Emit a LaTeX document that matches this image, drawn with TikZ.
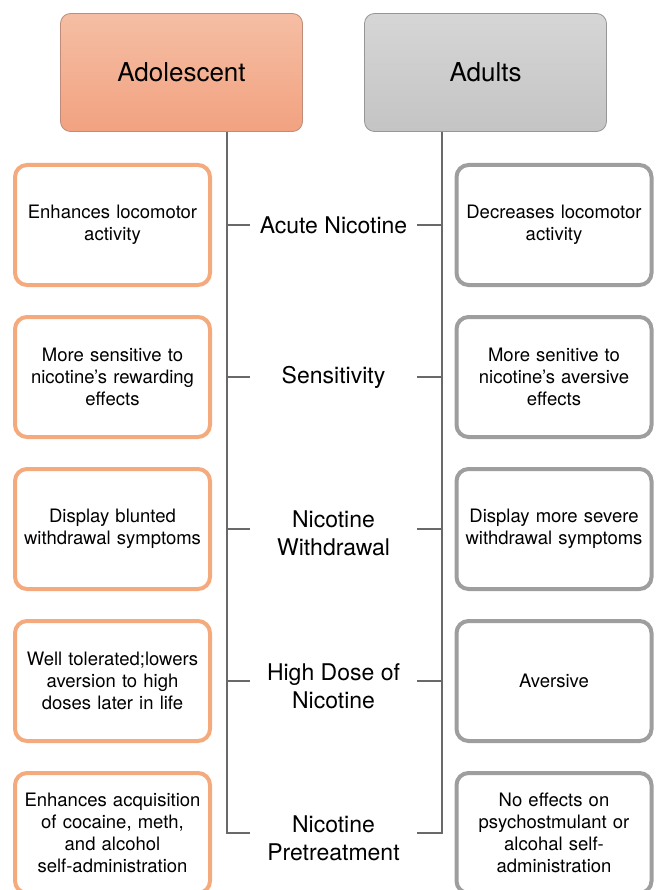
\documentclass[tikz,border=0pt]{standalone}
\usepackage{fontspec}
\setmainfont{TeX Gyre Heros}
\usetikzlibrary{positioning}
\definecolor{peach}{RGB}{244,170,124}
\definecolor{peachtop}{RGB}{245,190,164}
\definecolor{peachbot}{RGB}{242,162,128}
\definecolor{peachdark}{RGB}{190,140,120}
\definecolor{ash}{RGB}{158,158,158}
\definecolor{ashtop}{RGB}{214,214,214}
\definecolor{ashbot}{RGB}{196,196,196}
\definecolor{ashdark}{RGB}{150,150,150}
\definecolor{wire}{RGB}{105,105,105}

\begin{document}
\begin{tikzpicture}[x=1pt,y=-1pt,node distance=152pt,
    header/.style={rounded corners=10pt,line width=.8pt,minimum width=242pt,minimum height=118pt,font=\fontsize{26}{31}\selectfont},
    effect/.style={rounded corners=12pt,line width=4pt,fill=white,minimum width=195pt,minimum height=120pt,text width=186pt,align=center,font=\fontsize{18.5}{22}\selectfont},
    young/.style={effect,draw=peach},
    grown/.style={effect,draw=ash},
    topic/.style={align=center,font=\fontsize{23}{28}\selectfont},
    line/.style={draw=wire,line width=1.3pt}]
  \useasboundingbox (0,0) rectangle (655,890);

  % age groups
  \node[header,draw=peachdark,top color=peachtop,bottom color=peachbot] (adol) at (181.5,72.5) {Adolescent};
  \node[header,draw=ashdark,top color=ashtop,bottom color=ashbot] (adult) at (485.5,72.5) {Adults};

  % adolescent effects
  \node[young] (y1) at (112.5,225) {Enhances locomotor\\activity};
  \node[young] (y2) [below of=y1] {More sensitive to\\nicotine’s rewarding\\effects};
  \node[young] (y3) [below of=y2] {Display blunted\\withdrawal symptoms};
  \node[young] (y4) [below of=y3] {Well tolerated;lowers\\aversion to high\\doses later in life};
  \node[young] (y5) [below of=y4] {Enhances acquisition\\of cocaine, meth,\\and alcohol\\self-administration};

  % adult effects
  \node[grown] (a1) at (554,225) {Decreases locomotor\\activity};
  \node[grown] (a2) [below of=a1] {More senitive to\\nicotine’s aversive\\effects};
  \node[grown] (a3) [below of=a2] {Display more severe\\withdrawal symptoms};
  \node[grown] (a4) [below of=a3] {Aversive};
  \node[grown] (a5) [below of=a4] {No effects on\\psychostmulant or\\alcohal self-\\administration};

  % topics
  \node[topic] (acute) at (333.5,225) {Acute Nicotine};
  \node[topic] (sens) [below of=acute] {Sensitivity};
  \node[topic] (withd) [below of=sens,yshift=-4pt] {Nicotine\\Withdrawal};
  \node[topic] (dose) [below of=sens,yshift=-157pt] {High Dose of\\Nicotine};
  \node[topic] (pretr) [below of=dose] {Nicotine\\Pretreatment};

  % spines
  \coordinate (ltop) at (227,132);
  \coordinate (rtop) at (442,132);
  \coordinate (lend) at (250,833);
  \coordinate (rend) at (417,833);
  \draw[line] (ltop) |- (lend);
  \draw[line] (rtop) |- (rend);
  \draw[line] (ltop |- y1) -- ++(23,0);
  \draw[line] (ltop |- y2) -- ++(23,0);
  \draw[line] (ltop |- y3) -- ++(23,0);
  \draw[line] (ltop |- y4) -- ++(23,0);
  \draw[line] (rtop |- a1) -- ++(-25,0);
  \draw[line] (rtop |- a2) -- ++(-25,0);
  \draw[line] (rtop |- a3) -- ++(-25,0);
  \draw[line] (rtop |- a4) -- ++(-25,0);
\end{tikzpicture}
\end{document}
